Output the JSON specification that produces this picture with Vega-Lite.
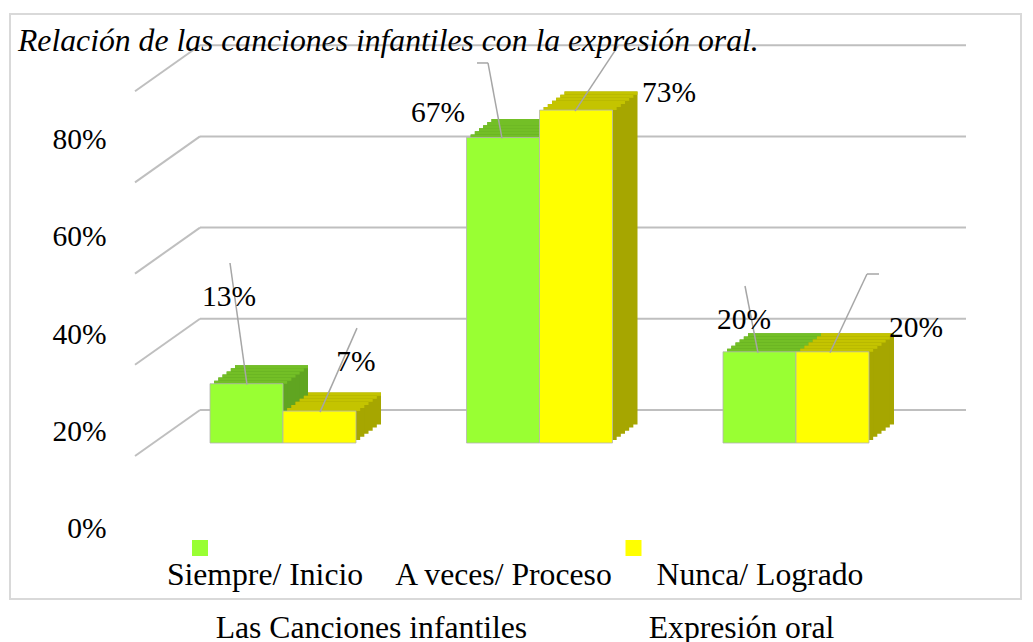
{
  "$schema": "https://vega.github.io/schema/vega-lite/v6.json",
  "width": 766,
  "height": 585,
  "autosize": {"type": "none"},
  "padding": {"left": 200, "top": 14, "right": 67, "bottom": 43},
  "background": "white",
  "config": {"view": {"stroke": null}, "font": "Liberation Serif"},
  "title": {
    "text": "Relación de las canciones infantiles con la expresión oral.",
    "anchor": "start", "frame": "group", "orient": "top", "offset": -32,
    "dx": -182, "dy": 38, "baseline": "alphabetic",
    "font": "Liberation Serif", "fontStyle": "italic", "fontWeight": "normal",
    "fontSize": 31.7, "color": "black"
  },
  "datasets": {
    "main": [
      {"cat": "Siempre/ Inicio", "series": "Las Canciones infantiles", "value": 0.13},
      {"cat": "Siempre/ Inicio", "series": "Expresión oral", "value": 0.07},
      {"cat": "A veces/ Proceso", "series": "Las Canciones infantiles", "value": 0.67},
      {"cat": "A veces/ Proceso", "series": "Expresión oral", "value": 0.73},
      {"cat": "Nunca/ Logrado", "series": "Las Canciones infantiles", "value": 0.20},
      {"cat": "Nunca/ Logrado", "series": "Expresión oral", "value": 0.20}
    ],
    "grid": [{"tick": 0}, {"tick": 0.2}, {"tick": 0.4}, {"tick": 0.6}, {"tick": 0.8}]
  },
  "data": {"name": "main"},
  "resolve": {"scale": {"x": "independent", "y": "independent"}},
  "layer": [
    {
      "layer": [
        {
          "data": {"values": [{}]},
          "mark": {"type": "rect", "filled": false, "stroke": "#D9D9D9", "strokeWidth": 2, "xOffset": -190, "x2Offset": 55},
          "encoding": {
            "x": {"datum": 0, "type": "quantitative", "scale": {"domain": [0, 1], "nice": false, "zero": false}, "axis": null},
            "x2": {"datum": 1}
          }
        },
        {
          "data": {"name": "grid"},
          "mark": {"type": "rule", "stroke": "#BFBFBF", "strokeWidth": 2, "yOffset": -33},
          "encoding": {
            "y": {"field": "tick", "type": "quantitative", "scale": {"domain": [-0.34211, 0.94079], "nice": false, "zero": false}, "axis": null}
          }
        },
        {
          "data": {"name": "grid"},
          "mark": {"type": "rule", "stroke": "#BFBFBF", "strokeWidth": 2, "yOffset": -33, "y2Offset": 13, "x2Offset": -65},
          "encoding": {
            "x": {"datum": 0, "type": "quantitative", "scale": {"domain": [0, 1], "nice": false, "zero": false}, "axis": null},
            "x2": {"datum": 0},
            "y": {"field": "tick", "type": "quantitative", "scale": {"domain": [-0.34211, 0.94079], "nice": false, "zero": false}, "axis": null},
            "y2": {"field": "tick"}
          }
        }
      ]
    },
    {
      "resolve": {"scale": {"xOffset": "independent", "color": "independent"}},
      "layer": [
        {
          "mark": {"type": "bar", "yOffset": -18.5, "y2Offset": -18.5},
          "encoding": {
            "x": {"field": "cat", "type": "nominal", "sort": null, "axis": null},
            "xOffset": {"field": "series", "type": "nominal", "sort": null, "scale": {"range": [25, 171]}},
            "y": {"field": "value", "type": "quantitative", "scale": {"domain": [-0.34211, 0.94079], "nice": false, "zero": false}, "axis": null},
            "color": {"field": "series", "type": "nominal", "sort": null, "scale": {"range": ["#60A521", "#A6A600"]}, "legend": null}
          }
        },
        {
          "mark": {"type": "bar", "yOffset": -18.5, "y2Offset": -15.42},
          "encoding": {
            "x": {"field": "cat", "type": "nominal", "sort": null, "axis": null},
            "xOffset": {"field": "series", "type": "nominal", "sort": null, "scale": {"range": [25, 171]}},
            "y": {"field": "value", "type": "quantitative", "scale": {"domain": [-0.34211, 0.94079], "nice": false, "zero": false}, "axis": null},
            "y2": {"field": "value"},
            "color": {"field": "series", "type": "nominal", "sort": null, "scale": {"range": ["#73BF26", "#C4C400"]}, "legend": null}
          }
        },
        {
          "mark": {"type": "bar", "yOffset": -15.42, "y2Offset": -15.42},
          "encoding": {
            "x": {"field": "cat", "type": "nominal", "sort": null, "axis": null},
            "xOffset": {"field": "series", "type": "nominal", "sort": null, "scale": {"range": [20.83, 166.83]}},
            "y": {"field": "value", "type": "quantitative", "scale": {"domain": [-0.34211, 0.94079], "nice": false, "zero": false}, "axis": null},
            "color": {"field": "series", "type": "nominal", "sort": null, "scale": {"range": ["#60A521", "#A6A600"]}, "legend": null}
          }
        },
        {
          "mark": {"type": "bar", "yOffset": -15.42, "y2Offset": -12.33},
          "encoding": {
            "x": {"field": "cat", "type": "nominal", "sort": null, "axis": null},
            "xOffset": {"field": "series", "type": "nominal", "sort": null, "scale": {"range": [20.83, 166.83]}},
            "y": {"field": "value", "type": "quantitative", "scale": {"domain": [-0.34211, 0.94079], "nice": false, "zero": false}, "axis": null},
            "y2": {"field": "value"},
            "color": {"field": "series", "type": "nominal", "sort": null, "scale": {"range": ["#73BF26", "#C4C400"]}, "legend": null}
          }
        },
        {
          "mark": {"type": "bar", "yOffset": -12.33, "y2Offset": -12.33},
          "encoding": {
            "x": {"field": "cat", "type": "nominal", "sort": null, "axis": null},
            "xOffset": {"field": "series", "type": "nominal", "sort": null, "scale": {"range": [16.67, 162.67]}},
            "y": {"field": "value", "type": "quantitative", "scale": {"domain": [-0.34211, 0.94079], "nice": false, "zero": false}, "axis": null},
            "color": {"field": "series", "type": "nominal", "sort": null, "scale": {"range": ["#60A521", "#A6A600"]}, "legend": null}
          }
        },
        {
          "mark": {"type": "bar", "yOffset": -12.33, "y2Offset": -9.25},
          "encoding": {
            "x": {"field": "cat", "type": "nominal", "sort": null, "axis": null},
            "xOffset": {"field": "series", "type": "nominal", "sort": null, "scale": {"range": [16.67, 162.67]}},
            "y": {"field": "value", "type": "quantitative", "scale": {"domain": [-0.34211, 0.94079], "nice": false, "zero": false}, "axis": null},
            "y2": {"field": "value"},
            "color": {"field": "series", "type": "nominal", "sort": null, "scale": {"range": ["#73BF26", "#C4C400"]}, "legend": null}
          }
        },
        {
          "mark": {"type": "bar", "yOffset": -9.25, "y2Offset": -9.25},
          "encoding": {
            "x": {"field": "cat", "type": "nominal", "sort": null, "axis": null},
            "xOffset": {"field": "series", "type": "nominal", "sort": null, "scale": {"range": [12.5, 158.5]}},
            "y": {"field": "value", "type": "quantitative", "scale": {"domain": [-0.34211, 0.94079], "nice": false, "zero": false}, "axis": null},
            "color": {"field": "series", "type": "nominal", "sort": null, "scale": {"range": ["#60A521", "#A6A600"]}, "legend": null}
          }
        },
        {
          "mark": {"type": "bar", "yOffset": -9.25, "y2Offset": -6.17},
          "encoding": {
            "x": {"field": "cat", "type": "nominal", "sort": null, "axis": null},
            "xOffset": {"field": "series", "type": "nominal", "sort": null, "scale": {"range": [12.5, 158.5]}},
            "y": {"field": "value", "type": "quantitative", "scale": {"domain": [-0.34211, 0.94079], "nice": false, "zero": false}, "axis": null},
            "y2": {"field": "value"},
            "color": {"field": "series", "type": "nominal", "sort": null, "scale": {"range": ["#73BF26", "#C4C400"]}, "legend": null}
          }
        },
        {
          "mark": {"type": "bar", "yOffset": -6.17, "y2Offset": -6.17},
          "encoding": {
            "x": {"field": "cat", "type": "nominal", "sort": null, "axis": null},
            "xOffset": {"field": "series", "type": "nominal", "sort": null, "scale": {"range": [8.33, 154.33]}},
            "y": {"field": "value", "type": "quantitative", "scale": {"domain": [-0.34211, 0.94079], "nice": false, "zero": false}, "axis": null},
            "color": {"field": "series", "type": "nominal", "sort": null, "scale": {"range": ["#60A521", "#A6A600"]}, "legend": null}
          }
        },
        {
          "mark": {"type": "bar", "yOffset": -6.17, "y2Offset": -3.08},
          "encoding": {
            "x": {"field": "cat", "type": "nominal", "sort": null, "axis": null},
            "xOffset": {"field": "series", "type": "nominal", "sort": null, "scale": {"range": [8.33, 154.33]}},
            "y": {"field": "value", "type": "quantitative", "scale": {"domain": [-0.34211, 0.94079], "nice": false, "zero": false}, "axis": null},
            "y2": {"field": "value"},
            "color": {"field": "series", "type": "nominal", "sort": null, "scale": {"range": ["#73BF26", "#C4C400"]}, "legend": null}
          }
        },
        {
          "mark": {"type": "bar", "yOffset": -3.08, "y2Offset": -3.08},
          "encoding": {
            "x": {"field": "cat", "type": "nominal", "sort": null, "axis": null},
            "xOffset": {"field": "series", "type": "nominal", "sort": null, "scale": {"range": [4.17, 150.17]}},
            "y": {"field": "value", "type": "quantitative", "scale": {"domain": [-0.34211, 0.94079], "nice": false, "zero": false}, "axis": null},
            "color": {"field": "series", "type": "nominal", "sort": null, "scale": {"range": ["#60A521", "#A6A600"]}, "legend": null}
          }
        },
        {
          "mark": {"type": "bar", "yOffset": -3.08, "y2Offset": 0},
          "encoding": {
            "x": {"field": "cat", "type": "nominal", "sort": null, "axis": null},
            "xOffset": {"field": "series", "type": "nominal", "sort": null, "scale": {"range": [4.17, 150.17]}},
            "y": {"field": "value", "type": "quantitative", "scale": {"domain": [-0.34211, 0.94079], "nice": false, "zero": false}, "axis": null},
            "y2": {"field": "value"},
            "color": {"field": "series", "type": "nominal", "sort": null, "scale": {"range": ["#73BF26", "#C4C400"]}, "legend": null}
          }
        },
        {
          "mark": {"type": "bar", "stroke": "#B4B4B4", "strokeWidth": 0.8},
          "encoding": {
            "x": {
              "field": "cat", "type": "nominal", "sort": null,
              "scale": {"paddingInner": 0.4308, "paddingOuter": 0.2086, "align": 0.0935},
              "axis": null
            },
            "xOffset": {"field": "series", "type": "nominal", "sort": null, "scale": {"range": [0, 146]}},
            "y": {"field": "value", "type": "quantitative", "scale": {"domain": [-0.34211, 0.94079], "nice": false, "zero": false}, "axis": null},
            "color": {
              "field": "series", "type": "nominal", "sort": null,
              "scale": {"range": ["#99FF33", "#FFFF00"]},
              "legend": {
                "title": null, "orient": "none", "legendX": -8, "legendY": 526, "direction": "horizontal",
                "symbolType": "square", "symbolSize": 256, "symbolStrokeWidth": 0, "symbolOpacity": 1,
                "labelExpr": "''", "labelFontSize": 1, "labelOffset": 0, "columnPadding": 417.5, "padding": 0
              }
            }
          }
        },
        {
          "transform": [{"filter": "datum.cat == 'Siempre/ Inicio' && datum.series == 'Las Canciones infantiles'"}],
          "mark": {"type": "rule", "stroke": "#A6A6A6", "strokeWidth": 1.5, "xOffset": -53, "x2Offset": -36, "yOffset": -120.7, "y2Offset": 1},
          "encoding": {
            "x": {"field": "cat", "type": "nominal", "sort": null, "axis": null},
            "x2": {"field": "cat"},
            "y": {"field": "value", "type": "quantitative", "scale": {"domain": [-0.34211, 0.94079], "nice": false, "zero": false}, "axis": null},
            "y2": {"field": "value"}
          }
        },
        {
          "transform": [{"filter": "datum.cat == 'Siempre/ Inicio' && datum.series == 'Expresión oral'"}],
          "mark": {"type": "rule", "stroke": "#A6A6A6", "strokeWidth": 1.5, "xOffset": 74, "x2Offset": 37, "yOffset": -83, "y2Offset": 1},
          "encoding": {
            "x": {"field": "cat", "type": "nominal", "sort": null, "axis": null},
            "x2": {"field": "cat"},
            "y": {"field": "value", "type": "quantitative", "scale": {"domain": [-0.34211, 0.94079], "nice": false, "zero": false}, "axis": null},
            "y2": {"field": "value"}
          }
        },
        {
          "transform": [{"filter": "datum.cat == 'A veces/ Proceso' && datum.series == 'Las Canciones infantiles'"}],
          "mark": {"type": "rule", "stroke": "#A6A6A6", "strokeWidth": 1.5, "xOffset": -51.5, "x2Offset": -37.5, "yOffset": -74.5, "y2Offset": 1},
          "encoding": {
            "x": {"field": "cat", "type": "nominal", "sort": null, "axis": null},
            "x2": {"field": "cat"},
            "y": {"field": "value", "type": "quantitative", "scale": {"domain": [-0.34211, 0.94079], "nice": false, "zero": false}, "axis": null},
            "y2": {"field": "value"}
          }
        },
        {
          "transform": [{"filter": "datum.cat == 'A veces/ Proceso' && datum.series == 'Las Canciones infantiles'"}],
          "mark": {"type": "rule", "stroke": "#A6A6A6", "strokeWidth": 1.5, "xOffset": -62.5, "x2Offset": -51.5, "yOffset": -74.5, "y2Offset": -74.5},
          "encoding": {
            "x": {"field": "cat", "type": "nominal", "sort": null, "axis": null},
            "x2": {"field": "cat"},
            "y": {"field": "value", "type": "quantitative", "scale": {"domain": [-0.34211, 0.94079], "nice": false, "zero": false}, "axis": null},
            "y2": {"field": "value"}
          }
        },
        {
          "transform": [{"filter": "datum.cat == 'A veces/ Proceso' && datum.series == 'Expresión oral'"}],
          "mark": {"type": "rule", "stroke": "#A6A6A6", "strokeWidth": 1.5, "xOffset": 35.5, "x2Offset": 78.5, "yOffset": 1, "y2Offset": -64},
          "encoding": {
            "x": {"field": "cat", "type": "nominal", "sort": null, "axis": null},
            "x2": {"field": "cat"},
            "y": {"field": "value", "type": "quantitative", "scale": {"domain": [-0.34211, 0.94079], "nice": false, "zero": false}, "axis": null},
            "y2": {"field": "value"}
          }
        },
        {
          "transform": [{"filter": "datum.cat == 'Nunca/ Logrado' && datum.series == 'Las Canciones infantiles'"}],
          "mark": {"type": "rule", "stroke": "#A6A6A6", "strokeWidth": 1.5, "xOffset": -51, "x2Offset": -38, "yOffset": -65.8, "y2Offset": 1},
          "encoding": {
            "x": {"field": "cat", "type": "nominal", "sort": null, "axis": null},
            "x2": {"field": "cat"},
            "y": {"field": "value", "type": "quantitative", "scale": {"domain": [-0.34211, 0.94079], "nice": false, "zero": false}, "axis": null},
            "y2": {"field": "value"}
          }
        },
        {
          "transform": [{"filter": "datum.cat == 'Nunca/ Logrado' && datum.series == 'Expresión oral'"}],
          "mark": {"type": "rule", "stroke": "#A6A6A6", "strokeWidth": 1.5, "xOffset": 34, "x2Offset": 71, "yOffset": 1, "y2Offset": -77.8},
          "encoding": {
            "x": {"field": "cat", "type": "nominal", "sort": null, "axis": null},
            "x2": {"field": "cat"},
            "y": {"field": "value", "type": "quantitative", "scale": {"domain": [-0.34211, 0.94079], "nice": false, "zero": false}, "axis": null},
            "y2": {"field": "value"}
          }
        },
        {
          "transform": [{"filter": "datum.cat == 'Nunca/ Logrado' && datum.series == 'Expresión oral'"}],
          "mark": {"type": "rule", "stroke": "#A6A6A6", "strokeWidth": 1.5, "xOffset": 71, "x2Offset": 83, "yOffset": -77.8, "y2Offset": -77.8},
          "encoding": {
            "x": {"field": "cat", "type": "nominal", "sort": null, "axis": null},
            "x2": {"field": "cat"},
            "y": {"field": "value", "type": "quantitative", "scale": {"domain": [-0.34211, 0.94079], "nice": false, "zero": false}, "axis": null},
            "y2": {"field": "value"}
          }
        },
        {
          "transform": [{"filter": "datum.cat == 'Siempre/ Inicio' && datum.series == 'Las Canciones infantiles'"}],
          "mark": {"type": "text", "dx": -54, "dy": -86.7, "fontSize": 29.5, "font": "Liberation Serif", "color": "black", "align": "center", "baseline": "middle"},
          "encoding": {
            "x": {"field": "cat", "type": "nominal", "sort": null, "axis": null},
            "y": {"field": "value", "type": "quantitative", "scale": {"domain": [-0.34211, 0.94079], "nice": false, "zero": false}, "axis": null},
            "text": {"field": "value", "type": "quantitative", "format": ".0%"}
          }
        },
        {
          "transform": [{"filter": "datum.cat == 'Siempre/ Inicio' && datum.series == 'Expresión oral'"}],
          "mark": {"type": "text", "dx": 73, "dy": -49.1, "fontSize": 29.5, "font": "Liberation Serif", "color": "black", "align": "center", "baseline": "middle"},
          "encoding": {
            "x": {"field": "cat", "type": "nominal", "sort": null, "axis": null},
            "y": {"field": "value", "type": "quantitative", "scale": {"domain": [-0.34211, 0.94079], "nice": false, "zero": false}, "axis": null},
            "text": {"field": "value", "type": "quantitative", "format": ".0%"}
          }
        },
        {
          "transform": [{"filter": "datum.cat == 'A veces/ Proceso' && datum.series == 'Las Canciones infantiles'"}],
          "mark": {"type": "text", "dx": -101.5, "dy": -24.5, "fontSize": 29.5, "font": "Liberation Serif", "color": "black", "align": "center", "baseline": "middle"},
          "encoding": {
            "x": {"field": "cat", "type": "nominal", "sort": null, "axis": null},
            "y": {"field": "value", "type": "quantitative", "scale": {"domain": [-0.34211, 0.94079], "nice": false, "zero": false}, "axis": null},
            "text": {"field": "value", "type": "quantitative", "format": ".0%"}
          }
        },
        {
          "transform": [{"filter": "datum.cat == 'A veces/ Proceso' && datum.series == 'Expresión oral'"}],
          "mark": {"type": "text", "dx": 129.5, "dy": -17.1, "fontSize": 29.5, "font": "Liberation Serif", "color": "black", "align": "center", "baseline": "middle"},
          "encoding": {
            "x": {"field": "cat", "type": "nominal", "sort": null, "axis": null},
            "y": {"field": "value", "type": "quantitative", "scale": {"domain": [-0.34211, 0.94079], "nice": false, "zero": false}, "axis": null},
            "text": {"field": "value", "type": "quantitative", "format": ".0%"}
          }
        },
        {
          "transform": [{"filter": "datum.cat == 'Nunca/ Logrado' && datum.series == 'Las Canciones infantiles'"}],
          "mark": {"type": "text", "dx": -52, "dy": -31.8, "fontSize": 29.5, "font": "Liberation Serif", "color": "black", "align": "center", "baseline": "middle"},
          "encoding": {
            "x": {"field": "cat", "type": "nominal", "sort": null, "axis": null},
            "y": {"field": "value", "type": "quantitative", "scale": {"domain": [-0.34211, 0.94079], "nice": false, "zero": false}, "axis": null},
            "text": {"field": "value", "type": "quantitative", "format": ".0%"}
          }
        },
        {
          "transform": [{"filter": "datum.cat == 'Nunca/ Logrado' && datum.series == 'Expresión oral'"}],
          "mark": {"type": "text", "dx": 120, "dy": -23.8, "fontSize": 29.5, "font": "Liberation Serif", "color": "black", "align": "center", "baseline": "middle"},
          "encoding": {
            "x": {"field": "cat", "type": "nominal", "sort": null, "axis": null},
            "y": {"field": "value", "type": "quantitative", "scale": {"domain": [-0.34211, 0.94079], "nice": false, "zero": false}, "axis": null},
            "text": {"field": "value", "type": "quantitative", "format": ".0%"}
          }
        }
      ]
    },
    {
      "mark": {"type": "point", "opacity": 0},
      "encoding": {
        "x": {
          "field": "cat", "type": "nominal", "sort": null,
          "scale": {"type": "band", "paddingInner": 0.4308, "paddingOuter": 0.2086, "align": 0.0935},
          "axis": {
            "title": null, "orient": "bottom", "domain": false, "ticks": false, "grid": false,
            "labelPadding": 0, "offset": -40, "labelAngle": 0,
            "labelOffset": {"condition": {"test": "datum.value == 'Siempre/ Inicio'", "value": -18}, "value": -36},
            "labelFontSize": 31.7, "labelFont": "Liberation Serif", "labelColor": "black", "labelLimit": 400
          }
        },
        "y": {
          "field": "value", "type": "quantitative",
          "scale": {"domain": [-0.14527, 1.05844], "nice": false, "zero": false},
          "axis": {
            "title": null, "orient": "left", "values": [0, 0.2, 0.4, 0.6, 0.8], "format": ".0%",
            "domain": false, "ticks": false, "grid": false, "labelPadding": 0, "offset": 94,
            "labelFontSize": 29.5, "labelFont": "Liberation Serif", "labelColor": "black"
          }
        },
        "shape": {
          "field": "series", "type": "nominal", "sort": null,
          "legend": {
            "title": null, "orient": "none", "legendX": -16, "legendY": 598, "direction": "horizontal",
            "symbolSize": 0, "symbolOpacity": 0, "symbolStrokeWidth": 0,
            "labelFontSize": 31.7, "labelFont": "Liberation Serif", "labelColor": "black",
            "labelOffset": 0, "columnPadding": 89, "labelLimit": 600, "padding": 0
          }
        }
      }
    }
  ]
}
